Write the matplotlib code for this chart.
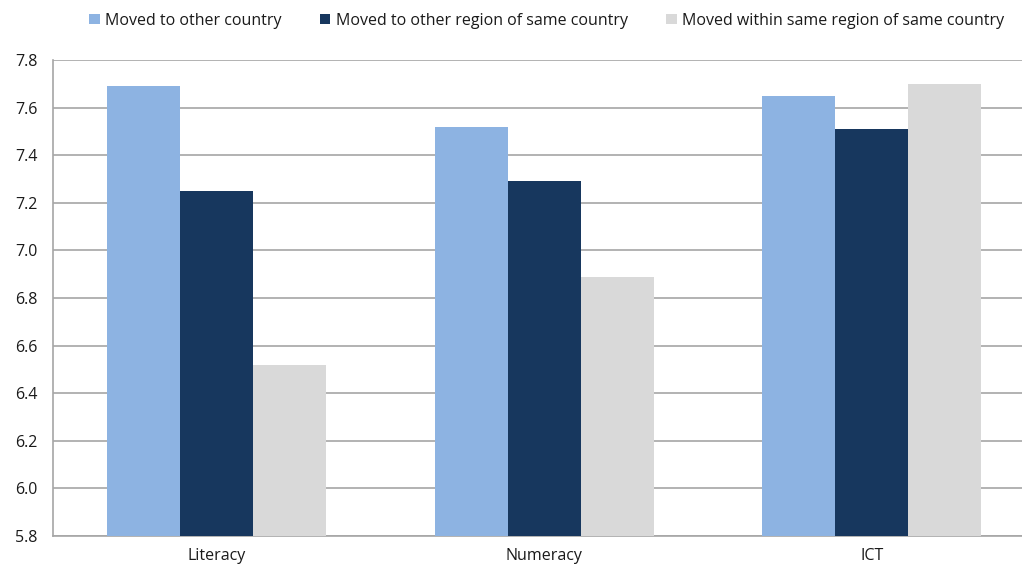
import matplotlib.pyplot as plt
import numpy as np

categories = ["Literacy", "Numeracy", "ICT"]
series_names = [
    "Moved to other country",
    "Moved to other region of same country",
    "Moved within same region of same country",
]
other_country = [7.69, 7.52, 7.65]
other_region = [7.25, 7.29, 7.51]
same_region = [6.52, 6.89, 7.70]
y_ticks = [5.8, 6.0, 6.2, 6.4, 6.6, 6.8, 7.0, 7.2, 7.4, 7.6, 7.8]

colors = ["#8DB3E2", "#17375E", "#D9D9D9"]
plt.rcParams["font.family"] = ["Open Sans", "DejaVu Sans"]

fig = plt.figure(figsize=(10.22, 5.68), dpi=100)
ax = fig.add_axes([53 / 1022, 32 / 568, 982.5 / 1022, 476 / 568])

x = np.arange(len(categories))
w = 0.223
for i, (vals, name) in enumerate(zip([other_country, other_region, same_region], series_names)):
    ax.bar(x + (i - 1) * w, np.array(vals) - 5.8, width=w, bottom=5.8,
           color=colors[i], label=name, zorder=3)

ax.set_xlim(-0.5, 2.5)
ax.set_ylim(5.8, 7.8)
ax.set_yticks(y_ticks)
ax.set_yticklabels([f"{t:.1f}" for t in y_ticks], fontsize=11.5, color="#1a1a1a")
ax.set_xticks(x)
ax.set_xticklabels(categories, fontsize=11.5, color="#1a1a1a")
ax.tick_params(length=0)
ax.tick_params(axis="x", pad=9)
ax.tick_params(axis="y", pad=11)
ax.yaxis.grid(True, color="#A6A6A6", linewidth=1.2, zorder=0)
for s in ["top", "right"]:
    ax.spines[s].set_visible(False)
for s in ["left", "bottom"]:
    ax.spines[s].set_color("#A6A6A6")
    ax.spines[s].set_linewidth(1.2)

fig.legend(loc="upper center", bbox_to_anchor=(0.535, 1.003), ncol=3, frameon=False,
           fontsize=11.5, handlelength=0.65, handleheight=0.65, handletextpad=0.35,
           columnspacing=2.4, labelcolor="#1a1a1a")

fig.savefig("out.png", dpi=100)
